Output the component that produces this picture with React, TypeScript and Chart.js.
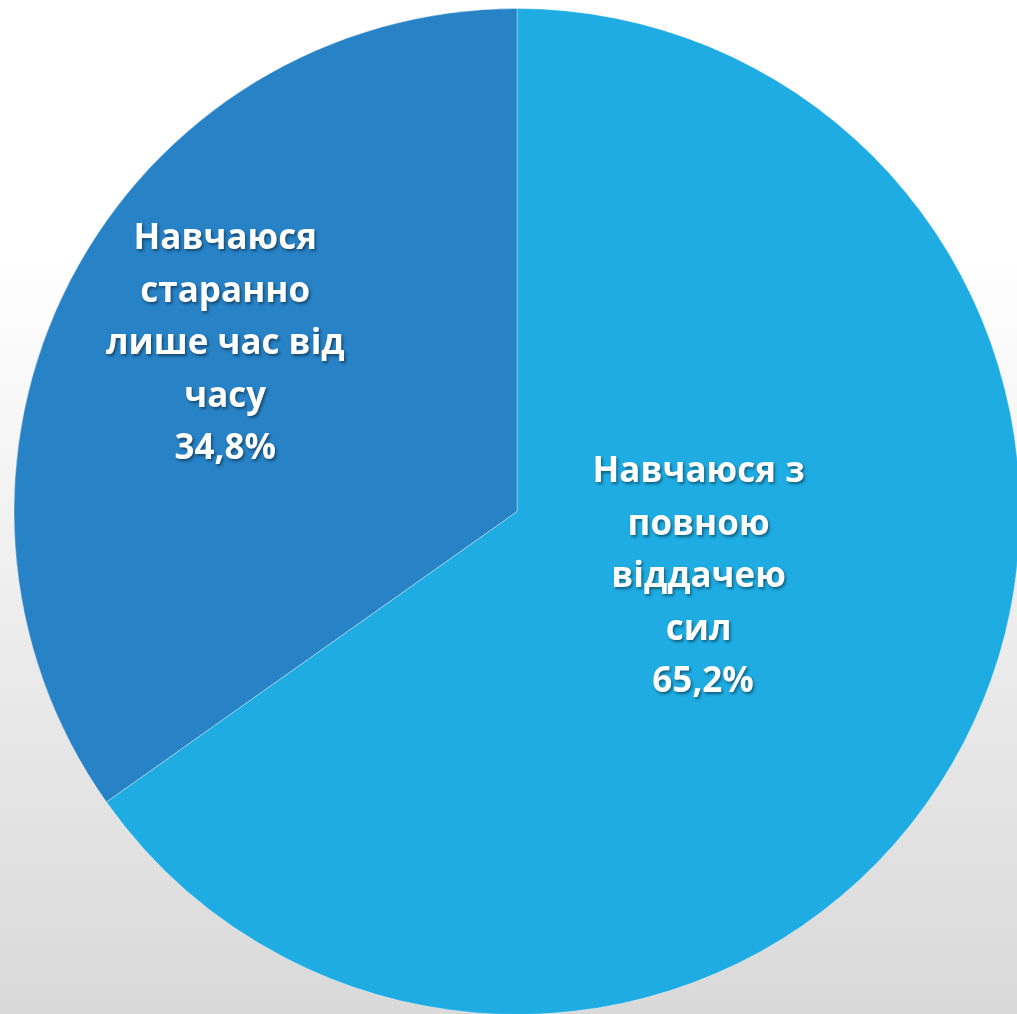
import React, { useEffect, useRef } from "react";
import { Chart, registerables } from "chart.js";

Chart.register(...registerables);

const categories = ["Навчаюся з повною віддачею сил", "Навчаюся старанно лише час від часу"];
const values = [65.2, 34.8];
const labelLines = [
  ["Навчаюся з", "повною", "віддачею", "сил", " 65,2%"],
  ["Навчаюся", "старанно", "лише час від", "часу", "34,8%"],
];
const colors = ["#1EACE3", "#2782C6"];

// label anchor offsets relative to pie centre, as fraction of radius
const labelOffsets = [
  [0.361, 0.131],
  [-0.58, -0.332],
];

const W = 1017;
const H = 1014;

const labelPlugin = {
  id: "sliceLabels",
  afterDatasetsDraw(chart: any) {
    const ctx = chart.ctx;
    const meta = chart.getDatasetMeta(0);
    ctx.save();
    ctx.font = "bold 35px 'Open Sans', sans-serif";
    ctx.fillStyle = "#ffffff";
    ctx.textAlign = "center";
    ctx.textBaseline = "middle";
    ctx.shadowColor = "rgba(0,0,0,0.45)";
    ctx.shadowOffsetX = 1.5;
    ctx.shadowOffsetY = 2;
    ctx.shadowBlur = 3;
    const lineH = 52.5;
    meta.data.forEach((arc: any, i: number) => {
      const r = arc.outerRadius;
      const cx = arc.x + labelOffsets[i][0] * r;
      const cy = arc.y + labelOffsets[i][1] * r;
      const lines = labelLines[i];
      const startY = cy - ((lines.length - 1) * lineH) / 2;
      lines.forEach((t, j) => {
        ctx.fillText(t, cx, startY + j * lineH);
      });
    });
    ctx.restore();
  },
};

export default function App() {
  const ref = useRef<HTMLCanvasElement>(null);
  useEffect(() => {
    if (!ref.current) return;
    const chart = new Chart(ref.current, {
      type: "pie",
      data: {
        labels: categories,
        datasets: [
          {
            data: values,
            backgroundColor: colors,
            borderColor: "rgba(255,255,255,0.35)",
            borderWidth: 1,
            clip: false as any,
          },
        ],
      },
      options: {
        responsive: false,
        animation: false,
        radius: 503,
        layout: { padding: { left: 17, right: 0, top: 9, bottom: 0 } },
        plugins: {
          legend: { display: false },
          tooltip: { enabled: false },
        },
      } as any,
      plugins: [labelPlugin],
    });
    return () => chart.destroy();
  }, []);
  return (
    <div
      style={{
        position: "fixed",
        left: 0,
        top: 0,
        width: W,
        height: H,
        overflow: "hidden",
        background: "linear-gradient(to bottom, #ffffff 0%, #ffffff 25%, #d9d9d9 100%)",
      }}
    >
      <canvas ref={ref} width={W} height={H} style={{ display: "block" }} />
    </div>
  );
}
